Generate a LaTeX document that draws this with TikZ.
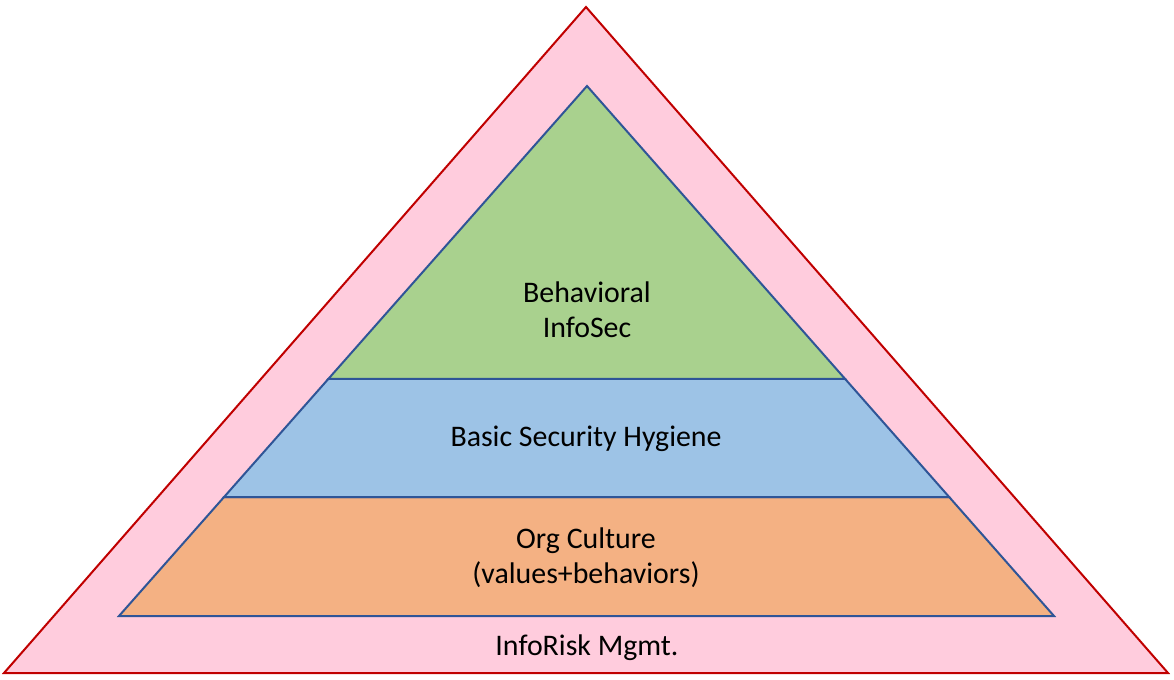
\documentclass[tikz,border=0pt]{standalone}
\usepackage{fontspec}
\setmainfont{Carlito}
\usetikzlibrary{calc}
\definecolor{pinkfill}{HTML}{FFCCDD}
\definecolor{redline}{HTML}{C00000}
\definecolor{blueline}{HTML}{2F5597}
\definecolor{greenfill}{HTML}{A9D18E}
\definecolor{bluefill}{HTML}{9DC3E6}
\definecolor{orangefill}{HTML}{F4B183}
\tikzset{
  outer/.style={fill=pinkfill, draw=redline, line width=1.5pt, line join=miter},
  band/.style={draw=blueline, line width=1.5pt, line join=miter},
  lbl/.style={font=\fontsize{22.4}{27}\selectfont, anchor=base, inner sep=0pt, text=black}
}
\begin{document}
\begin{tikzpicture}[x=0.75pt,y=-0.75pt]
\useasboundingbox (0,0) rectangle (1174,680);
% outer triangle
\coordinate (OA) at (586,7);
\coordinate (OL) at (4,673);
\coordinate (OR) at (1168,673);
\draw[outer] (OA) -- (OL) -- (OR) -- cycle;
% inner pyramid
\coordinate (IA) at (587,86);
\coordinate (IL) at (119,616);
\coordinate (IR) at (1054,616);
\coordinate (L1) at ($(IA)!0.5528!(IL)$);
\coordinate (R1) at ($(IA)!0.5528!(IR)$);
\coordinate (L2) at ($(IA)!0.7755!(IL)$);
\coordinate (R2) at ($(IA)!0.7755!(IR)$);
\draw[band, fill=orangefill] (L2) -- (IL) -- (IR) -- (R2) -- cycle;
\draw[band, fill=bluefill] (L1) -- (L2) -- (R2) -- (R1) -- cycle;
\draw[band, fill=greenfill] (IA) -- (L1) -- (R1) -- cycle;
% labels
\node[lbl] (beh1) at (587,303) {Behavioral};
\node[lbl] (beh2) at (587,338) {InfoSec};
\node[lbl] (bsh) at (586,447) {Basic Security Hygiene};
\node[lbl] (org1) at (586,548) {Org Culture};
\node[lbl] (org2) at (586,583) {(values+behaviors)};
\node[lbl] (irm) at (587,655) {InfoRisk Mgmt.};
\end{tikzpicture}
\end{document}
